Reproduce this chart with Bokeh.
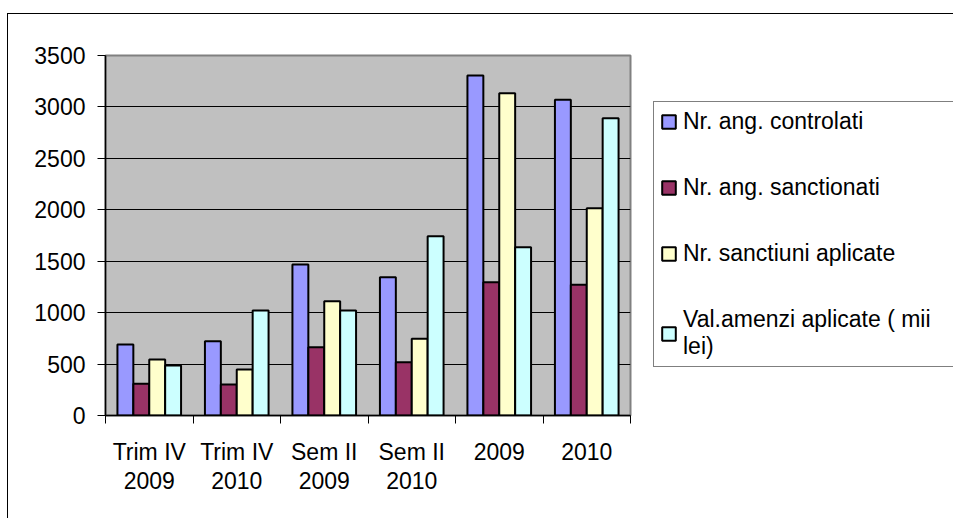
import numpy as np
from bokeh.plotting import figure
from bokeh.layouts import row
from bokeh.models import Range1d, FixedTicker, Legend, LegendItem
from bokeh.embed import file_html
from bokeh.resources import INLINE

# ---- data ----
categories = ["Trim IV\n2009", "Trim IV\n2010", "Sem II\n2009", "Sem II\n2010", "2009", "2010"]
series_names = ["Nr. ang. controlati", "Nr. ang. sanctionati",
                "Nr. sanctiuni aplicate", "Val.amenzi aplicate ( mii\nlei)"]
nr_ang_controlati = [690, 722, 1468, 1345, 3305, 3069]
nr_ang_sanctionati = [308, 301, 664, 518, 1296, 1270]
nr_sanctiuni_aplicate = [544, 447, 1111, 745, 3134, 2016]
val_amenzi_aplicate = [486, 1022, 1020, 1743, 1636, 2890]
series_colors = ["#9999FF", "#993366", "#FFFFCC", "#CCFFFF"]
y_ticks = [0, 500, 1000, 1500, 2000, 2500, 3000, 3500]

FONT = "Liberation Sans"
FS = "23px"
LINE = "linear-gradient(#000,#000)"

# ---------------- main chart ----------------
p = figure(width=632, height=518, title=None,
           x_range=Range1d(0, len(categories)), y_range=Range1d(0, 3500),
           output_backend="svg", toolbar_location=None,
           min_border_left=105, min_border_right=2,
           min_border_top=55, min_border_bottom=103)

p.background_fill_color = "#C0C0C0"
p.border_fill_alpha = 0.0
p.outline_line_color = "#808080"
p.outline_line_width = 2
# outer chart frame: left and top edges (right/bottom lie outside the picture)
p.styles = {"background": f"{LINE} 7px 13px / 1px 900px no-repeat, "
                          f"{LINE} 7px 13px / 2000px 1px no-repeat, #ffffff"}

series = [nr_ang_controlati, nr_ang_sanctionati, nr_sanctiuni_aplicate, val_amenzi_aplicate]
n = len(series)
bar_w = 1.0 / (n + 1.5)
centers = np.arange(len(categories)) + 0.5

for i, (vals, col) in enumerate(zip(series, series_colors)):
    p.vbar(x=centers + (i - (n - 1) / 2) * bar_w, top=vals, bottom=0, width=bar_w,
           fill_color=col, line_color="black", line_width=2)

# x axis: labels at category centres, ticks at category boundaries
xa = p.xaxis[0]
xa.ticker = FixedTicker(ticks=list(centers), minor_ticks=list(range(len(categories) + 1)))
xa.major_label_overrides = {float(c): lab for c, lab in zip(centers, categories)}
xa.major_tick_out = 0
xa.major_tick_in = 0
xa.minor_tick_out = 8
xa.minor_tick_in = 0
xa.minor_tick_line_color = "black"
xa.minor_tick_line_width = 1
xa.axis_line_color = "black"
xa.axis_line_width = 1.5
xa.major_label_text_font = FONT
xa.major_label_text_font_size = FS
xa.major_label_text_color = "black"
xa.major_label_text_line_height = 1.13
xa.major_label_standoff = 15

ya = p.yaxis[0]
ya.ticker = FixedTicker(ticks=y_ticks)
ya.minor_tick_line_color = None
ya.major_tick_out = 8
ya.major_tick_in = 0
ya.major_tick_line_color = "black"
ya.axis_line_color = "black"
ya.axis_line_width = 1.5
ya.major_label_text_font = FONT
ya.major_label_text_font_size = FS
ya.major_label_text_color = "black"
ya.major_label_standoff = 12

p.xgrid.visible = False
p.ygrid.ticker = FixedTicker(ticks=y_ticks[1:-1])
p.ygrid.grid_line_color = "black"
p.ygrid.grid_line_width = 1

# ---------------- legend panel ----------------
# (its frame is aligned with the main chart's frame by the row layout)
q = figure(width=321, height=518, title=None,
           x_range=Range1d(0, len(categories)), y_range=Range1d(0, 3500),
           x_axis_type=None, y_axis_type=None,
           output_backend="svg", toolbar_location=None,
           min_border=0)
q.background_fill_alpha = 0.0
q.border_fill_alpha = 0.0
q.outline_line_color = None
q.xgrid.visible = False
q.ygrid.visible = False
q.styles = {"background": f"{LINE} 0px 13px / 2000px 1px no-repeat, #ffffff"}

keys = []
for i, (vals, col) in enumerate(zip(series, series_colors)):
    # same series, not painted here: only its legend key is shown
    r = q.vbar(x=centers + (i - (n - 1) / 2) * bar_w, top=vals, bottom=0,
               width=bar_w, fill_color=col, line_color="black", line_width=2)
    r.visible = False
    keys.append(r)

items = [LegendItem(label=name, renderers=[r]) for name, r in zip(series_names, keys)]
legend = Legend(items=items, location=(21, 48), orientation="vertical",
                border_line_color="black", border_line_width=1,
                background_fill_color="white", background_fill_alpha=1.0,
                inactive_fill_alpha=0.0,
                padding=6, spacing=39, margin=0,
                glyph_width=17, glyph_height=17, label_standoff=6,
                label_width=270,
                label_text_font=FONT, label_text_font_size=FS,
                label_text_line_height=1.0,
                label_text_color="black")
q.add_layout(legend)

layout = row(p, q, spacing=0)
open("out.html", "w").write(file_html(layout, INLINE))
